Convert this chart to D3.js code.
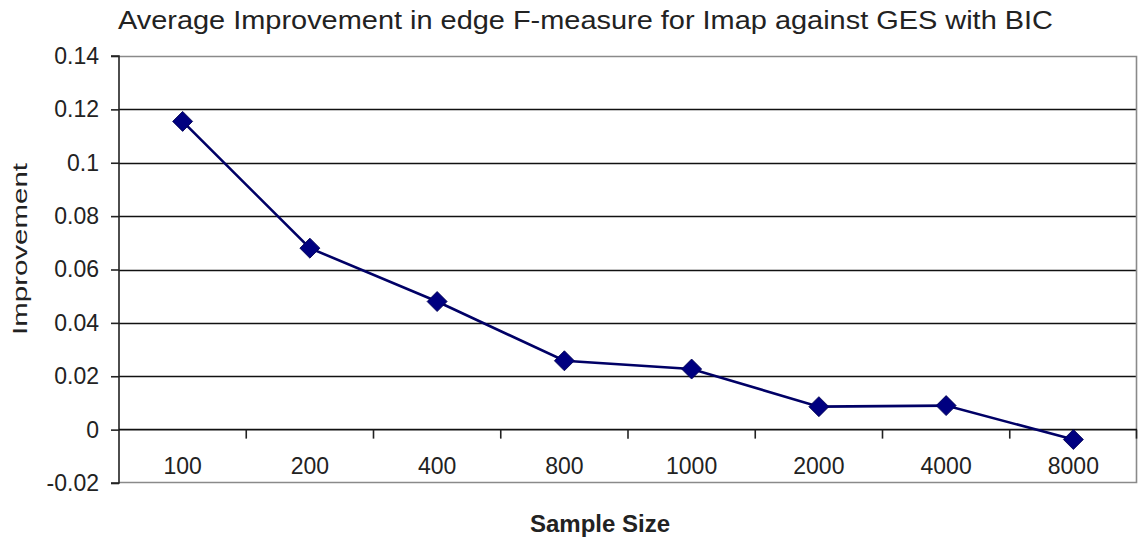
<!DOCTYPE html>
<html>
<head>
<meta charset="utf-8">
<script src="https://cdn.jsdelivr.net/npm/d3@7"></script>
<style>
  html, body { margin: 0; padding: 0; background: #fff; }
  svg { display: block; font-family: "Liberation Sans", Arial, sans-serif; }
</style>
</head>
<body>
<svg id="chart" width="1141" height="538"></svg>
<script>
// Sample sizes along the x axis
const sampleSizes = ["100", "200", "400", "800", "1000", "2000", "4000", "8000"];
// Average improvement in edge F-measure for each sample size
const improvement = [0.1155, 0.068, 0.048, 0.0258, 0.0227, 0.0086, 0.009, -0.0037];
// Y axis tick values and labels
const yTicks = [-0.02, 0, 0.02, 0.04, 0.06, 0.08, 0.1, 0.12, 0.14];
const yTickLabels = ["-0.02", "0", "0.02", "0.04", "0.06", "0.08", "0.1", "0.12", "0.14"];

const titleText = "Average Improvement in edge F-measure for Imap against GES with BIC";
const xTitle = "Sample Size";
const yTitle = "Improvement";

const svg = d3.select("#chart");
const plot = { left: 119, right: 1137, top: 56, bottom: 483 };

const x = d3.scaleBand().domain(sampleSizes).range([plot.left, plot.right]).padding(0);
const y = d3.scaleLinear().domain([-0.02, 0.14]).range([plot.bottom, plot.top]);

// plot background
svg.append("rect")
  .attr("x", plot.left).attr("y", plot.top)
  .attr("width", plot.right - plot.left).attr("height", plot.bottom - plot.top)
  .attr("fill", "#fff");

// horizontal gridlines (interior)
svg.append("g")
  .selectAll("line")
  .data(yTicks.filter(v => v > -0.02 && v < 0.14 && v !== 0))
  .join("line")
  .attr("x1", plot.left).attr("x2", plot.right)
  .attr("y1", d => Math.round(y(d)) + 0.5).attr("y2", d => Math.round(y(d)) + 0.5)
  .attr("stroke", "#111").attr("stroke-width", 1.6);

// plot frame: top, right, bottom in gray
svg.append("path")
  .attr("d", `M${plot.left},${plot.top + 0.5}H${plot.right - 0.5}V${plot.bottom - 0.5}H${plot.left}`)
  .attr("fill", "none").attr("stroke", "#8a8a8a").attr("stroke-width", 1.6);

// y axis
const yAxis = d3.axisLeft(y)
  .tickValues(yTicks)
  .tickFormat((d, i) => yTickLabels[i])
  .tickSize(8)
  .tickPadding(12);
const gy = svg.append("g")
  .attr("transform", `translate(${plot.left},0)`)
  .call(yAxis);
gy.select(".domain").attr("stroke", "#222").attr("stroke-width", 1.6).attr("d", `M-8,${plot.top}H0V${plot.bottom}H-8`);
gy.selectAll(".tick line").attr("stroke", "#222").attr("stroke-width", 1.6);
gy.selectAll(".tick text")
  .attr("font-size", 23).attr("fill", "#222")
  .attr("font-family", "Liberation Sans, Arial, sans-serif");

// x axis along zero line, ticks between categories
const gx = svg.append("g").attr("transform", `translate(0,${y(0)})`);
gx.append("line")
  .attr("x1", plot.left).attr("x2", plot.right)
  .attr("stroke", "#111").attr("stroke-width", 1.8);
gx.selectAll("line.tick")
  .data(sampleSizes.slice(1).concat(["end"]))
  .join("line")
  .attr("class", "tick")
  .attr("x1", (d, i) => i < sampleSizes.length - 1 ? x(d) : plot.right - 0.5)
  .attr("x2", (d, i) => i < sampleSizes.length - 1 ? x(d) : plot.right - 0.5)
  .attr("y1", 0).attr("y2", 9)
  .attr("stroke", "#222").attr("stroke-width", 1.6);
svg.append("g")
  .selectAll("text")
  .data(sampleSizes)
  .join("text")
  .attr("x", d => x(d) + x.bandwidth() / 2)
  .attr("y", 474)
  .attr("text-anchor", "middle")
  .attr("font-size", 23)
  .attr("fill", "#222")
  .text(d => d);

// series line
const line = d3.line()
  .x((d, i) => x(sampleSizes[i]) + x.bandwidth() / 2)
  .y(d => y(d));
svg.append("path")
  .datum(improvement)
  .attr("d", line)
  .attr("fill", "none")
  .attr("stroke", "#000066")
  .attr("stroke-width", 2.6);

// diamond markers
const diamond = d3.symbol().type(d3.symbolSquare).size(200);
svg.append("g")
  .selectAll("path")
  .data(improvement)
  .join("path")
  .attr("d", diamond)
  .attr("transform", (d, i) => `translate(${x(sampleSizes[i]) + x.bandwidth() / 2},${y(d)}) rotate(45)`)
  .attr("fill", "#000080")
  .attr("stroke", "#000050")
  .attr("stroke-width", 0.8);

// title
svg.append("text")
  .attr("x", 118).attr("y", 29)
  .attr("font-size", 25)
  .attr("textLength", 935)
  .attr("lengthAdjust", "spacingAndGlyphs")
  .attr("fill", "#222")
  .text(titleText);

// axis titles
svg.append("text")
  .attr("x", 600).attr("y", 532)
  .attr("text-anchor", "middle")
  .attr("font-size", 24)
  .attr("font-weight", "bold")
  .attr("fill", "#222")
  .text(xTitle);

svg.append("text")
  .attr("transform", "translate(27,249) rotate(-90)")
  .attr("text-anchor", "middle")
  .attr("font-size", 21)
  .attr("textLength", 172)
  .attr("lengthAdjust", "spacingAndGlyphs")
  .attr("fill", "#222")
  .text(yTitle);
</script>
</body>
</html>
